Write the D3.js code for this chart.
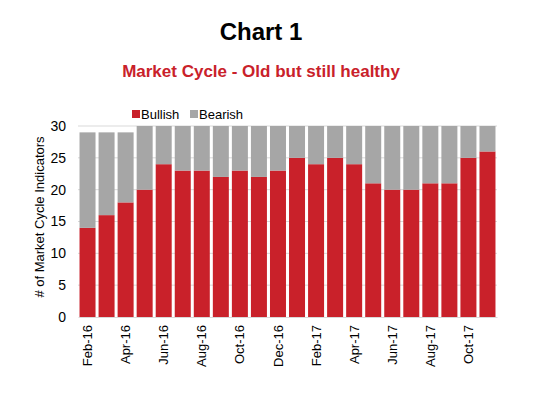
<!DOCTYPE html>
<html>
<head>
<meta charset="utf-8">
<script src="https://cdn.jsdelivr.net/npm/d3@7"></script>
<style>
  body { margin: 0; background: #fff; }
  text { font-family: "Liberation Sans", Arial, sans-serif; }
</style>
</head>
<body>
<svg id="chart" width="539" height="393"></svg>
<script>
var months = ["Feb-16","Mar-16","Apr-16","May-16","Jun-16","Jul-16","Aug-16","Sep-16","Oct-16","Nov-16","Dec-16",
              "Jan-17","Feb-17","Mar-17","Apr-17","May-17","Jun-17","Jul-17","Aug-17","Sep-17","Oct-17","Nov-17"];
var bullish = [14,16,18,20,24,23,23,22,23,22,23,25,24,25,24,21,20,20,21,21,25,26];
var bearish = [15,13,11,10,6,7,7,8,7,8,7,5,6,5,6,9,10,10,9,9,5,4];
var yTicks = [0,5,10,15,20,25,30];

var svg = d3.select("#chart"),
    margin = {top: 126, right: 42, bottom: 76, left: 78},
    width = +svg.attr("width") - margin.left - margin.right,
    height = +svg.attr("height") - margin.top - margin.bottom;

var red = "#c9212a", grey = "#a6a6a6";

svg.append("text")
    .attr("x", 261).attr("y", 40)
    .attr("text-anchor", "middle")
    .style("font-size", "24px").style("font-weight", "bold")
    .text("Chart 1");

svg.append("text")
    .attr("x", 261).attr("y", 77)
    .attr("text-anchor", "middle")
    .style("font-size", "17px").style("font-weight", "bold")
    .attr("fill", red)
    .text("Market Cycle - Old but still healthy");

var x = d3.scaleBand().domain(months).range([0, width]).paddingInner(0.16).paddingOuter(0.08),
    y = d3.scaleLinear().domain([0, 30]).range([height, 0]);

var g = svg.append("g")
    .attr("transform", "translate(" + margin.left + "," + margin.top + ")");

// gridlines
g.selectAll(".grid")
  .data(yTicks.filter(function(d) { return d > 0; }))
  .enter().append("line")
    .attr("x1", 0).attr("x2", width)
    .attr("y1", function(d) { return y(d); })
    .attr("y2", function(d) { return y(d); })
    .attr("stroke", "#d9d9d9");

var stackData = months.map(function(m, i) { return {month: m, Bullish: bullish[i], Bearish: bearish[i]}; });
var series = d3.stack().keys(["Bullish", "Bearish"])(stackData);
var colors = {Bullish: red, Bearish: grey};

g.selectAll(".series")
  .data(series)
  .enter().append("g")
    .attr("fill", function(s) { return colors[s.key]; })
  .selectAll("rect")
  .data(function(s) { return s; })
  .enter().append("rect")
    .attr("x", function(d) { return x(d.data.month); })
    .attr("y", function(d) { return y(d[1]); })
    .attr("width", x.bandwidth())
    .attr("height", function(d) { return y(d[0]) - y(d[1]); });

// y axis
var yAxis = g.append("g")
    .call(d3.axisLeft(y).tickValues(yTicks).tickSize(0).tickPadding(12));
yAxis.select(".domain").remove();
yAxis.selectAll("text").style("font-size", "14px").attr("fill", "#000");

// x axis
var xAxis = g.append("g")
    .attr("transform", "translate(0," + height + ")")
    .call(d3.axisBottom(x).tickValues(months.filter(function(d, i) { return i % 2 === 0; })).tickSize(0));
xAxis.select(".domain").attr("stroke", "#d9d9d9");
xAxis.selectAll("text")
    .style("font-size", "13px").attr("fill", "#000")
    .attr("transform", "rotate(-90)")
    .attr("text-anchor", "end")
    .attr("x", -8).attr("y", 0).attr("dy", "0.35em");

svg.append("text")
    .attr("transform", "translate(44," + 217 + ") rotate(-90)")
    .attr("text-anchor", "middle")
    .style("font-size", "13px")
    .text("# of Market Cycle Indicators");

// legend
var legend = svg.append("g").attr("transform", "translate(132,110)");
["Bullish", "Bearish"].forEach(function(k, i) {
  var lg = legend.append("g").attr("transform", "translate(" + (i * 58) + ",0)");
  lg.append("rect").attr("width", 8).attr("height", 8).attr("fill", colors[k]);
  lg.append("text").attr("x", 9).attr("y", 9).style("font-size", "13px").text(k);
});
</script>
</body>
</html>
